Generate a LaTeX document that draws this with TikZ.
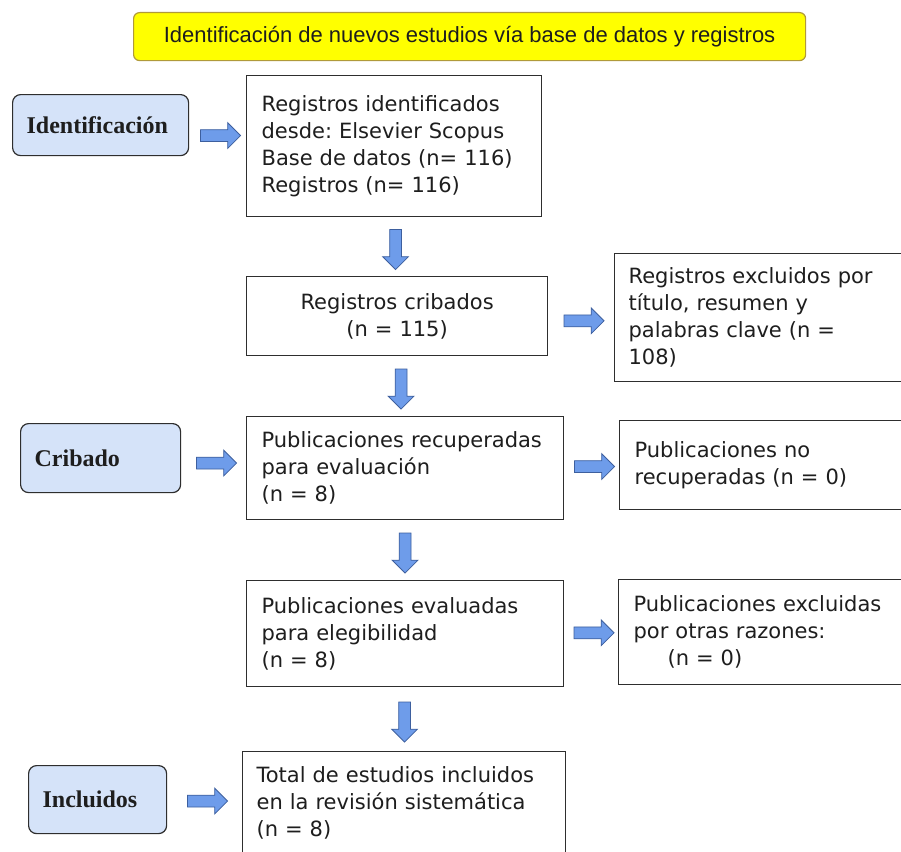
\documentclass[tikz,border=0pt]{standalone}
\usepackage{fontspec}
\setmainfont{DejaVu Sans}
\newfontfamily\titlefont{Liberation Sans}
\newfontfamily\stagefont{Liberation Serif}
\usepackage{xcolor}
\usetikzlibrary{positioning,calc,shapes.arrows}
\definecolor{PrismaYellow}{HTML}{FFFF00}
\definecolor{PrismaGold}{HTML}{B09A3A}
\definecolor{PrismaSky}{HTML}{D5E3F9}
\definecolor{PrismaBlue}{HTML}{6E9CEA}
\definecolor{PrismaNavy}{HTML}{3D5F9E}
\definecolor{PrismaInk}{HTML}{1E1E1E}
\definecolor{PrismaLine}{HTML}{2E2E2E}
\frenchspacing

\begin{document}
\begin{tikzpicture}[x=1pt,y=-1pt,
  heading/.style={draw=PrismaGold,fill=PrismaYellow,rounded corners=6pt,line width=1.2pt,anchor=north west,minimum width=672pt,minimum height=48pt,align=center,text=PrismaInk,font=\titlefont\fontsize{22}{26}\selectfont},
  stage/.style={draw=PrismaLine,fill=PrismaSky,rounded corners=8pt,line width=1.2pt,anchor=north west,inner xsep=14pt,align=left,text=PrismaInk,font=\stagefont\fontsize{24}{28}\selectfont\bfseries},
  record/.style={draw=PrismaLine,line width=1.2pt,anchor=north west,inner xsep=15pt,align=left,text=PrismaInk,font=\fontsize{21}{27}\selectfont},
  rarrow/.style={single arrow,draw=PrismaNavy,fill=PrismaBlue,line width=0.8pt,minimum height=40pt,inner xsep=0pt,inner ysep=5.5pt,single arrow head extend=7pt},
  darrow/.style={rarrow,shape border rotate=270,inner xsep=5.5pt,inner ysep=0pt}]
  \path[use as bounding box,fill=white] (0,0) rectangle (901,851);
  \clip (0,0) rectangle (901,851);
  \node[heading] (title) at (133,12) {Identificación de nuevos estudios vía base de datos y registros};
  \node[stage,text width=148pt,minimum height=61pt] (ident) at (12,94) {Identificación};
  \node[stage,text width=132pt,minimum height=69pt] (crib) at (20,423) {Cribado};
  \node[stage,text width=110pt,minimum height=68pt] (incl) at (28,765) {Incluidos};
  \node[record,text width=265pt,minimum height=141pt] (recs) at (246,75) {Registros identificados\\desde: Elsevier Scopus\\Base de datos (n= 116)\\Registros (n= 116)};
  \node[record,text width=271pt,minimum height=79pt,align=center] (screened) at (246,276) {Registros cribados\\(n = 115)};
  \node[record,inner xsep=14pt,text width=272pt,minimum height=128pt] (excluded) at (614,253) {Registros excluidos por\\título, resumen y\\palabras clave (n =\\108)};
  \node[record,text width=287pt,minimum height=103pt] (retrieved) at (246,416) {Publicaciones recuperadas\\para evaluación\\(n = 8)};
  \node[record,text width=270pt,minimum height=89pt] (notretr) at (619,420) {Publicaciones no\\recuperadas (n = 0)};
  \node[record,text width=270pt,minimum height=105pt] (other) at (618,579) {Publicaciones excluidas\\por otras razones:\\\hspace*{34pt}(n = 0)};
  \node[record,text width=287pt,minimum height=106pt] (assessed) at (246,580) {Publicaciones evaluadas\\para elegibilidad\\(n = 8)};
  \node[record,inner xsep=14pt,text width=295pt,minimum height=102pt] (total) at (242,751) {Total de estudios incluidos\\en la revisión sistemática\\(n = 8)};
  \node[rarrow] (ident-recs) at ($(ident.east)!0.5!(recs.west)$) {};
  \node[rarrow] (crib-retrieved) at ($(crib.east)!0.5!(retrieved.west)$) {};
  \node[rarrow] (incl-total) at ($(incl.east)!0.5!(total.west)$) {};
  \node[rarrow] (screened-excluded) at ($(screened.east)!0.5!(excluded.west)+(0,4)$) {};
  \node[rarrow] (retrieved-notretr) at ($(retrieved.east)!0.5!(notretr.west)$) {};
  \node[rarrow] (assessed-other) at ($(assessed.east)!0.5!(other.west)$) {};
  \node[darrow] (recs-screened) at ($(recs.south)!0.5!(screened.north)$) {};
  \node[darrow] (screened-retrieved) at ($(screened.south)!0.5!(retrieved.north)$) {};
  \node[darrow] (retrieved-assessed) at ($(retrieved.south)!0.5!(assessed.north)$) {};
  \node[darrow] (assessed-total) at ($(assessed.south)!0.5!(total.north)$) {};
\end{tikzpicture}
\end{document}
